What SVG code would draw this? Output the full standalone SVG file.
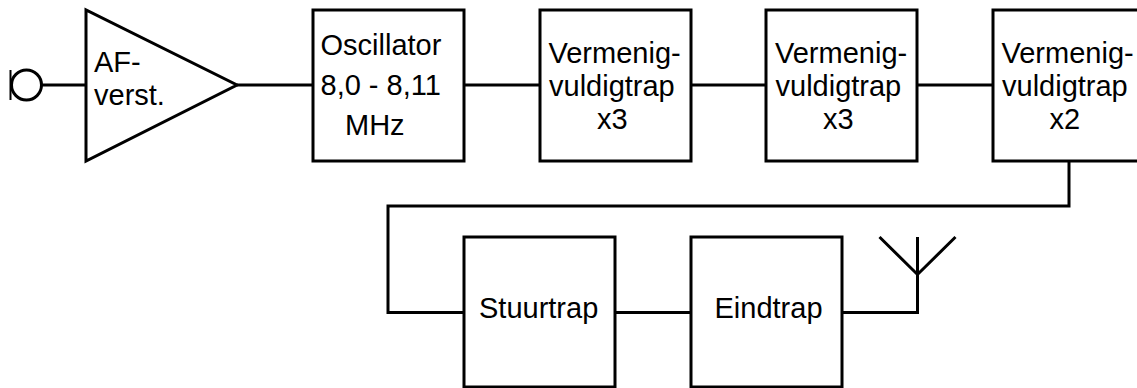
<svg xmlns="http://www.w3.org/2000/svg" width="1137" height="388" viewBox="0 0 1137 388">
<style>
.s{fill:none;stroke:#000;stroke-width:3;stroke-linejoin:miter;stroke-linecap:butt}
.b{fill:#fff;stroke:#000;stroke-width:3}
.t{font-family:"Liberation Sans",Arial,sans-serif;font-size:29px;fill:#000}
</style>
<rect width="1137" height="388" fill="#fff"/>
<g id="connectors">
<path class="s" d="M41 85H86"/>
<path class="s" d="M237 85H313"/>
<path class="s" d="M464 85H540"/>
<path class="s" d="M691 85H766"/>
<path class="s" d="M917 85H993"/>
<path class="s" d="M1069 161V206H388V312.5H464"/>
<path class="s" d="M615 312.5H691"/>
<path class="s" d="M842 312.5H917.500V237"/>
</g>
<g id="input">
<circle class="s" cx="26.500" cy="85" r="15"/>
<path class="s" d="M10.500 70V100" style="stroke-width:2"/>
</g>
<g id="af-amp">
<path class="b" d="M86 10V161L237 85Z"/>
<text class="t" x="94" y="71.500">AF-</text>
<text class="t" x="94" y="105">verst.</text>
</g>
<g id="oscillator">
<rect class="b" x="313" y="10" width="151" height="151"/>
<text class="t" x="320.500" y="55">Oscillator</text>
<text class="t" x="320.500" y="95">8,0 - 8,11</text>
<text class="t" x="345" y="135">MHz</text>
</g>
<g id="mult1">
<rect class="b" x="540" y="10" width="151" height="151"/>
<text class="t" x="548.500" y="63">Vermenig-</text>
<text class="t" x="549" y="96">vuldigtrap</text>
<text class="t" x="597" y="129">x3</text>
</g>
<g id="mult2">
<rect class="b" x="766" y="10" width="151" height="151"/>
<text class="t" x="775" y="63">Vermenig-</text>
<text class="t" x="775.500" y="96">vuldigtrap</text>
<text class="t" x="823" y="129">x3</text>
</g>
<g id="mult3">
<rect class="b" x="993" y="10" width="151" height="151"/>
<text class="t" x="1001.500" y="63">Vermenig-</text>
<text class="t" x="1002" y="96">vuldigtrap</text>
<text class="t" x="1049.500" y="129">x2</text>
</g>
<g id="stuurtrap">
<rect class="b" x="464" y="237" width="151" height="150"/>
<text class="t" x="479" y="317.500">Stuurtrap</text>
</g>
<g id="eindtrap">
<rect class="b" x="691" y="237" width="151" height="150"/>
<text class="t" x="714.500" y="317.500">Eindtrap</text>
</g>
<g id="antenna">
<path class="s" d="M879.500 237L917.500 274.500L955.500 237"/>
</g>
</svg>
